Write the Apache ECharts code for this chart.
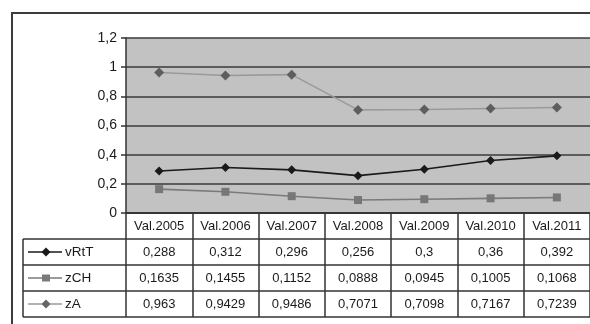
<!DOCTYPE html>
<html>
<head>
<meta charset="utf-8">
<script src="https://cdn.jsdelivr.net/npm/echarts@6/dist/echarts.min.js"></script>
<style>html,body{margin:0;padding:0;background:#fff;}#c{width:590px;height:324px;}</style>
</head>
<body>
<div id="c"></div>
<script>
const categories = ['Val.2005','Val.2006','Val.2007','Val.2008','Val.2009','Val.2010','Val.2011'];
const seriesNames = ['vRtT','zCH','zA'];
const vRtT = [0.288,0.312,0.296,0.256,0.3,0.36,0.392];
const zCH = [0.1635,0.1455,0.1152,0.0888,0.0945,0.1005,0.1068];
const zA = [0.963,0.9429,0.9486,0.7071,0.7098,0.7167,0.7239];
const yTicks = [0,0.2,0.4,0.6,0.8,1,1.2];

const allValues = [vRtT, zCH, zA];
const fmt = v => String(v).replace('.', ',');

// table cells: row 0 = category, rows 1..3 = values
const cellData = [];
const cellText = [];
categories.forEach((c, i) => {
  cellData.push([i, 0]); cellText.push(c);
  allValues.forEach((arr, r) => { cellData.push([i, r + 1]); cellText.push(fmt(arr[i])); });
});

const F = 'Liberation Sans, Arial, sans-serif';
const chart = echarts.init(document.getElementById('c'));
const gridL = 126, gridW = 467, top1 = 38, bot1 = 213, rowH = 26;

const legendStyles = [
  {line:'#1a1a1a', sym:'diamond', col:'#1a1a1a'},
  {line:'#7a7a7a', sym:'rect', col:'#7a7a7a'},
  {line:'#9a9a9a', sym:'diamond', col:'#666'}
];
const graphics = [
  {type:'rect', shape:{x:12,y:13,width:620,height:400}, style:{fill:'none', stroke:'#3c3c3c', lineWidth:2}, z:100}
];
// legend column of data table
const tTop = bot1 + rowH;
graphics.push({type:'line', shape:{x1:23,y1:tTop,x2:23,y2:tTop+3*rowH}, style:{stroke:'#333',lineWidth:1.5}});
for (let r = 0; r <= 3; r++) {
  graphics.push({type:'line', shape:{x1:23,y1:tTop+r*rowH,x2:gridL,y2:tTop+r*rowH}, style:{stroke:'#333',lineWidth:1.5}});
}
seriesNames.forEach((n, r) => {
  const cy = tTop + r*rowH + rowH/2;
  const st = legendStyles[r];
  graphics.push({type:'line', shape:{x1:28,y1:cy,x2:62,y2:cy}, style:{stroke:st.line,lineWidth:1.5}});
  if (st.sym === 'rect') {
    graphics.push({type:'rect', shape:{x:42,y:cy-3.5,width:8,height:7}, style:{fill:st.col}});
  } else {
    graphics.push({type:'polygon', shape:{points:[[46,cy-4.5],[50.5,cy],[46,cy+4.5],[41.5,cy]]}, style:{fill:st.col}});
  }
  graphics.push({type:'text', style:{text:n, x:65, y:cy, verticalAlign:'middle', font:'13.5px '+F, fill:'#1a1a1a'}});
});

const lineSeries = [
  {data:vRtT, color:'#1a1a1a', lineColor:'#1a1a1a', symbol:'diamond', size:9},
  {data:zCH, color:'#777', lineColor:'#7a7a7a', symbol:'rect', size:8},
  {data:zA, color:'#5e5e5e', lineColor:'#9a9a9a', symbol:'diamond', size:10}
].map((s, i) => ({
  type:'line', name:seriesNames[i], xAxisIndex:0, yAxisIndex:0, data:s.data,
  symbol:s.symbol, symbolSize:s.size, showSymbol:true,
  lineStyle:{color:s.lineColor, width:1.6}, itemStyle:{color:s.color},
  animation:false, z:5
}));

chart.setOption({
  animation:false,
  backgroundColor:'#fff',
  grid:[
    {left:gridL, top:top1, width:gridW, height:bot1-top1, show:true, backgroundColor:'#c2c2c2', borderWidth:0},
    {left:gridL, top:bot1, width:gridW, height:4*rowH, show:false}
  ],
  xAxis:[
    {type:'category', gridIndex:0, data:categories, boundaryGap:true,
     axisLine:{show:true, lineStyle:{color:'#333', width:1.5}}, axisTick:{show:false}, axisLabel:{show:false}, splitLine:{show:false}},
    {type:'category', gridIndex:1, data:categories, boundaryGap:true, position:'top',
     axisLine:{show:false}, axisTick:{show:false}, axisLabel:{show:false},
     splitLine:{show:true, interval:0, lineStyle:{color:'#333', width:1.5}}}
  ],
  yAxis:[
    {type:'value', gridIndex:0, min:0, max:1.2, interval:0.2,
     axisLine:{show:true, lineStyle:{color:'#333', width:1.5}},
     axisTick:{show:true, length:5, lineStyle:{color:'#333', width:1.5}},
     axisLabel:{color:'#1a1a1a', fontSize:14, fontFamily:F, margin:9,
       formatter: v => { const t = yTicks.find(x => Math.abs(x - v) < 1e-9); return fmt(t === undefined ? v : t); }},
     splitLine:{show:true, lineStyle:{color:'#3a3a3a', width:1.6}}},
    {type:'value', gridIndex:1, min:0, max:4, interval:1, inverse:true,
     axisLine:{show:false}, axisTick:{show:false}, axisLabel:{show:false},
     splitLine:{show:true, lineStyle:{color:'#333', width:1.5}}}
  ],
  series: lineSeries.concat([{
    type:'custom', xAxisIndex:1, yAxisIndex:1, data:cellData, animation:false,
    renderItem:(params, api) => {
      const p = api.coord([api.value(0), api.value(1) + 0.5]);
      return {type:'text', style:{text:cellText[params.dataIndex], x:p[0], y:p[1], align:'center', verticalAlign:'middle', font:'13px '+F, fill:'#1a1a1a'}};
    }
  }]),
  graphic: graphics
});
</script>
</body>
</html>
